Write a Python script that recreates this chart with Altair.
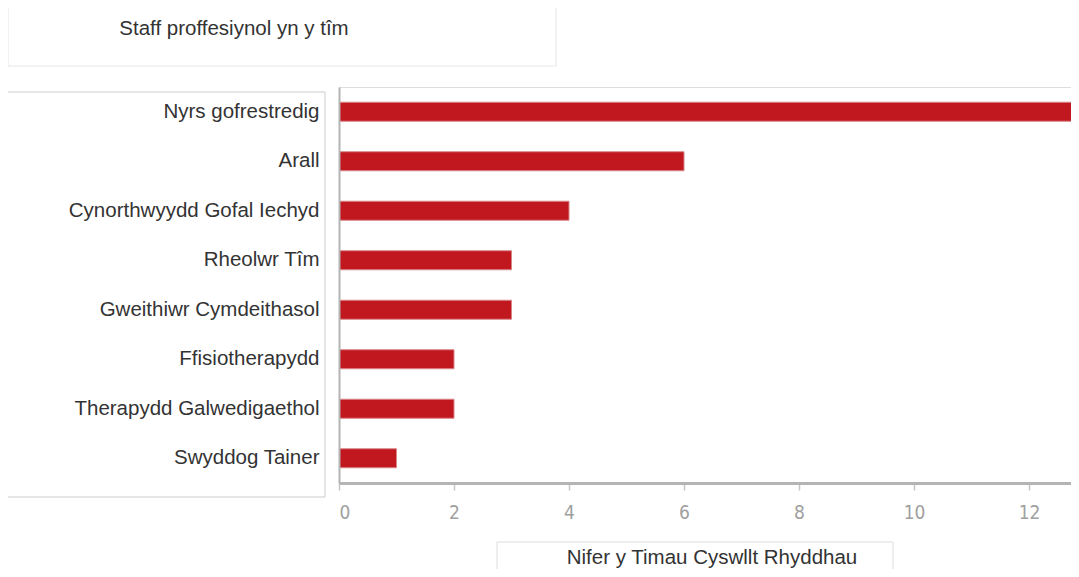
import altair as alt
import pandas as pd

categories = [
    "Nyrs gofrestredig",
    "Arall",
    "Cynorthwyydd Gofal Iechyd",
    "Rheolwr Tîm",
    "Gweithiwr Cymdeithasol",
    "Ffisiotherapydd",
    "Therapydd Galwedigaethol",
    "Swyddog Tainer",
]
values = [13, 6, 4, 3, 3, 2, 2, 1]
x_ticks = [0, 2, 4, 6, 8, 10, 12]
title_text = "Staff proffesiynol yn y tîm"
axis_title_text = "Nifer y Timau Cyswllt Rhyddhau"

df = pd.DataFrame({"role": categories, "count": values})
one = pd.DataFrame({"k": [0]})

LABEL_FONT = "Liberation Sans"

bars = alt.Chart(df).mark_bar(
    clip=True, color="#c1181f", stroke="#d9868a", strokeWidth=1
).encode(
    x=alt.X(
        "count:Q",
        scale=alt.Scale(domain=[0, 12.73], nice=False, zero=True),
        axis=alt.Axis(
            values=x_ticks, title=None, grid=False,
            domainColor="#b4b4b4", domainWidth=3,
            tickColor="#c4c4c4", tickWidth=1.5, tickSize=7,
            labelFont="Liberation Sans Narrow, DejaVu Sans Condensed",
            labelFontSize=19,
            labelColor="#a0a0a0", labelPadding=13,
        ),
    ),
    y=alt.Y(
        "role:N", sort=categories,
        scale=alt.Scale(paddingInner=0.616, paddingOuter=0.308),
        axis=alt.Axis(
            title=None, ticks=False, domainColor="#b4b4b4", domainWidth=2,
            labelFont=LABEL_FONT, labelFontSize=20.5, labelColor="#333333",
            labelPadding=20, labelLimit=400, zindex=2,
        ),
    ),
)

def box(x, x2, y, y2, stroke="#dddddd"):
    return alt.Chart(one).mark_rect(
        fill="white", stroke=stroke, strokeWidth=1, clip=False
    ).encode(
        x=alt.value(x), x2=alt.value(x2), y=alt.value(y), y2=alt.value(y2)
    )

top_box = box(-331, 217, -82, -21, stroke="#e6e6e6")
left_box = box(-345, -14, 5, 410, stroke="#cccccc")
bottom_box = box(158, 554, 455, 520, stroke="#dddddd")

title = alt.Chart(one).mark_text(
    text=title_text, font=LABEL_FONT, fontSize=20.5, color="#333333",
    align="center", baseline="alphabetic"
).encode(x=alt.value(-105), y=alt.value(-52))

xtitle = alt.Chart(one).mark_text(
    text=axis_title_text, font=LABEL_FONT, fontSize=20.5, color="#333333",
    align="center", baseline="alphabetic"
).encode(x=alt.value(373), y=alt.value(477))

chart = alt.layer(
    top_box, left_box, bottom_box, bars, title, xtitle
).properties(
    width=732, height=396,
    autosize=alt.AutoSizeParams(type="none"),
    padding={"left": 331, "top": 79, "right": 0, "bottom": 86},
).configure_view(stroke=None).configure(background="white")

chart.save("out.html", embed_options={"renderer": "svg", "actions": False})
